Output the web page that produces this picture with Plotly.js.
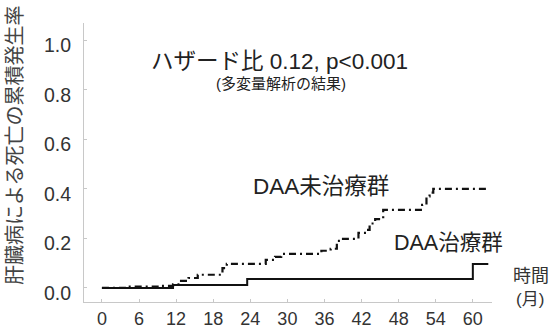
<!DOCTYPE html>
<html>
<head>
<meta charset="utf-8">
<script src="https://cdn.plot.ly/plotly-3.0.1.min.js"></script>
<style>html,body{margin:0;padding:0;background:#fff;}#chart{width:550px;height:336px;}</style>
</head>
<body>
<div id="chart"></div>
<script>
// Data (months, cumulative incidence)
const untreatedMonths = [0, 4, 9.5, 11.5, 12.8, 14, 15.5, 19.5, 20.2, 26.5, 28, 29, 35.5, 37, 38, 39, 41.5, 42.8, 43.3, 44.2, 45.5, 51.8, 52.5, 53, 53.6, 62.5];
const untreatedValues = [0, 0.005, 0.008, 0.014, 0.028, 0.04, 0.053, 0.08, 0.097, 0.113, 0.125, 0.137, 0.15, 0.158, 0.19, 0.198, 0.222, 0.234, 0.26, 0.278, 0.315, 0.335, 0.37, 0.385, 0.4, 0.4];
const treatedMonths = [0, 11.5, 23.5, 60, 62.5];
const treatedValues = [0, 0.012, 0.036, 0.097, 0.097];

const xTicks = [0, 6, 12, 18, 24, 30, 36, 42, 48, 54, 60];
const yTicks = [0, 0.2, 0.4, 0.6, 0.8, 1.0];
const yTickText = ['0.0', '0.2', '0.4', '0.6', '0.8', '1.0'];

const yTitle = '肝臓病による死亡の累積発生率';
const hrText = 'ハザード比 0.12, p<0.001';
const hrSub = '(多変量解析の結果)';
const untreatedLabel = 'DAA未治療群';
const treatedLabel = 'DAA治療群';
const xTitle1 = '時間';
const xTitle2 = '(月)';

const FONT = '"Liberation Sans", Arial, "Noto Sans CJK JP", sans-serif';
const axisGray = '#c8c8c8';
const textGray = '#333333';

const traces = [
  {
    x: untreatedMonths, y: untreatedValues, type: 'scatter', mode: 'lines',
    line: {shape: 'hv', color: '#111', width: 2.2, dash: '7px,4px,2px,4px'},
    hoverinfo: 'skip', showlegend: false
  },
  {
    x: treatedMonths, y: treatedValues, type: 'scatter', mode: 'lines',
    line: {shape: 'hv', color: '#111', width: 2},
    hoverinfo: 'skip', showlegend: false
  }
];

const layout = {
  width: 550, height: 336,
  margin: {l: 84, r: 58, t: 23, b: 34, pad: 0},
  paper_bgcolor: '#fff', plot_bgcolor: '#fff',
  font: {family: FONT, color: textGray},
  showlegend: false,
  xaxis: {
    range: [-2.9, 63.1], tickvals: xTicks, ticktext: xTicks.map(String),
    showline: true, linecolor: axisGray, linewidth: 1,
    ticks: 'inside', ticklen: 3, tickcolor: axisGray,
    showgrid: false, zeroline: false,
    tickfont: {size: 18, color: textGray, family: FONT},
    ticklabelstandoff: 0
  },
  yaxis: {
    range: [-0.057, 1.07], tickvals: yTicks, ticktext: yTickText,
    showline: true, linecolor: axisGray, linewidth: 1,
    ticks: 'inside', ticklen: 3, tickcolor: axisGray,
    showgrid: false, zeroline: false,
    tickfont: {size: 19.5, color: textGray, family: FONT},
    ticklabelstandoff: 8, ticklabelshift: 5
  },
  annotations: [
    {text: yTitle, xref: 'paper', yref: 'paper', x: (15 - 84) / 408, y: (302 - 146) / 279,
     textangle: -90, showarrow: false, xanchor: 'center', yanchor: 'middle',
     font: {size: 20, color: '#444', family: FONT}},
    {text: hrText, xref: 'x', yref: 'y', x: 28.8, y: 0.913, showarrow: false,
     xanchor: 'center', yanchor: 'middle', font: {size: 22.5, color: '#222', family: FONT}},
    {text: hrSub, xref: 'x', yref: 'y', x: 28.9, y: 0.825, showarrow: false,
     xanchor: 'center', yanchor: 'middle', font: {size: 15, color: '#222', family: FONT}},
    {text: untreatedLabel, xref: 'x', yref: 'y', x: 35.4, y: 0.41, showarrow: false,
     xanchor: 'center', yanchor: 'middle', font: {size: 22.5, color: '#222', family: FONT}},
    {text: treatedLabel, xref: 'x', yref: 'y', x: 56, y: 0.18, showarrow: false,
     xanchor: 'center', yanchor: 'middle', font: {size: 21.5, color: '#222', family: FONT}},
    {text: xTitle1, xref: 'paper', yref: 'paper', x: (531 - 84) / 408, y: (302 - 276) / 279,
     showarrow: false, xanchor: 'center', yanchor: 'middle', font: {size: 18, color: textGray, family: FONT}},
    {text: xTitle2, xref: 'paper', yref: 'paper', x: (530 - 84) / 408, y: (302 - 299) / 279,
     showarrow: false, xanchor: 'center', yanchor: 'middle', font: {size: 17, color: textGray, family: FONT}}
  ]
};

Plotly.newPlot('chart', traces, layout, {staticPlot: true, displayModeBar: false});
</script>
</body>
</html>
